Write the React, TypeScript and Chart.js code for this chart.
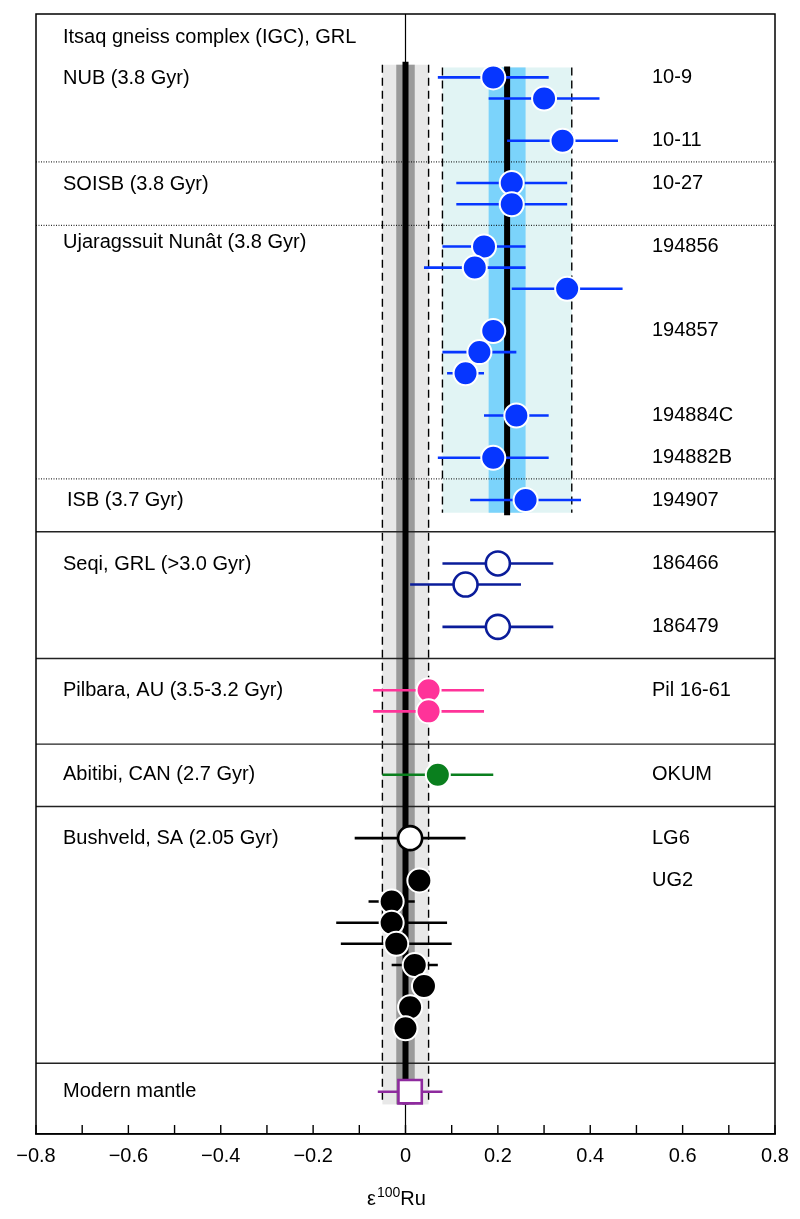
import React, { useEffect, useRef } from 'react';
import { Chart, registerables } from 'chart.js';

Chart.register(...registerables);

const FONT = '"Liberation Sans", Arial, Helvetica, sans-serif';

// ---- axis ----
const X_MIN = -0.8;
const X_MAX = 0.8;
const X_STEP = 0.1;
const ROW_TOP = -3;
const ROW_BOTTOM = 50;

// ---- Itsaq gneiss complex (IGC) samples ----
const igcRows = [0, 1, 3, 5, 6, 8, 9, 10, 12, 13, 14, 16, 18, 20];
const igcValues = [0.19, 0.3, 0.34, 0.23, 0.23, 0.17, 0.15, 0.35, 0.19, 0.16, 0.13, 0.24, 0.19, 0.26];
const igcErrors = [0.12, 0.12, 0.12, 0.12, 0.12, 0.09, 0.11, 0.12, 0.02, 0.08, 0.04, 0.07, 0.12, 0.12];

// ---- Seqi ----
const seqiRows = [23, 24, 26];
const seqiValues = [0.2, 0.13, 0.2];
const seqiErrors = [0.12, 0.12, 0.12];

// ---- Pilbara ----
const pilbaraRows = [29, 30];
const pilbaraValues = [0.05, 0.05];
const pilbaraErrors = [0.12, 0.12];

// ---- Abitibi ----
const abitibiRows = [33];
const abitibiValues = [0.07];
const abitibiErrors = [0.12];

// ---- Bushveld ----
const lg6Rows = [36];
const lg6Values = [0.01];
const lg6Errors = [0.12];
const ug2Rows = [38, 39, 40, 41, 42, 43, 44, 45];
const ug2Values = [0.03, -0.03, -0.03, -0.02, 0.02, 0.04, 0.01, 0.0];
const ug2Errors = [0.02, 0.05, 0.12, 0.12, 0.05, 0.02, 0.02, 0.02];

// ---- Modern mantle ----
const mantleRows = [48];
const mantleValues = [0.01];
const mantleErrors = [0.07];

// ---- bands (mean, inner, outer, row extent) ----
const igcMean = 0.22;
const igcInner = [0.18, 0.26];
const igcOuter = [0.08, 0.36];
const igcBandRows = [-0.47, 20.6];
const igcMeanRows = [-0.52, 20.72];

const mantleMean = 0;
const mantleInner = [-0.02, 0.02];
const mantleOuter = [-0.05, 0.05];
const mantleBandRows = [-0.6, 48.6];
const mantleMeanRows = [-0.74, 48.6];

// ---- separators ----
const dottedRows = [4, 7, 19];
const solidRows = [21.5, 27.5, 31.55, 34.5, 46.65];

// ---- text ----
const groupLabels = [
  'Itsaq gneiss complex (IGC), GRL',
  'NUB (3.8 Gyr)',
  'SOISB (3.8 Gyr)',
  'Ujaragssuit Nunât (3.8 Gyr)',
  'ISB (3.7 Gyr)',
  'Seqi, GRL (>3.0 Gyr)',
  'Pilbara, AU (3.5-3.2 Gyr)',
  'Abitibi, CAN (2.7 Gyr)',
  'Bushveld, SA (2.05 Gyr)',
  'Modern mantle',
];
const groupLabelRows = [-1.88, 0.03, 5.05, 7.8, 20, 23.05, 29, 33, 36, 48];
const groupLabelIndent = [0, 0, 0, 0, 4, 0, 0, 0, 0, 0];

const sampleLabels = [
  '10-9', '10-11', '10-27', '194856', '194857', '194884C', '194882B', '194907',
  '186466', '186479', 'Pil 16-61', 'OKUM', 'LG6', 'UG2',
];
const sampleLabelRows = [0, 3, 5, 8, 12, 16, 18, 20, 23, 26, 29, 33, 36, 38];

// ---- colours ----
const BLUE = '#0636ff';
const NAVY = '#0a1c9a';
const PINK = '#ff3399';
const GREEN = '#0a7f1e';
const PURPLE = '#8e2a9e';
const LIGHT_CYAN = '#e1f4f4';
const MID_BLUE = '#7bd3fb';
const LIGHT_GRAY = '#e8e8e8';
const DARK_GRAY = '#9a9a9a';

function pts(rows: number[], values: number[]) {
  return rows.map((r, i) => ({ x: values[i], y: r }));
}

export default function App() {
  const ref = useRef<HTMLCanvasElement>(null);

  useEffect(() => {
    const canvas = ref.current;
    if (!canvas) return;

    const errorSets = [
      { rows: igcRows, values: igcValues, errors: igcErrors, color: BLUE },
      { rows: seqiRows, values: seqiValues, errors: seqiErrors, color: NAVY },
      { rows: pilbaraRows, values: pilbaraValues, errors: pilbaraErrors, color: PINK },
      { rows: abitibiRows, values: abitibiValues, errors: abitibiErrors, color: GREEN },
      { rows: lg6Rows, values: lg6Values, errors: lg6Errors, color: '#000' },
      { rows: ug2Rows, values: ug2Values, errors: ug2Errors, color: '#000' },
      { rows: mantleRows, values: mantleValues, errors: mantleErrors, color: PURPLE },
    ];

    const overlay = {
      id: 'overlay',
      beforeDatasetsDraw(chart: any) {
        const ctx = chart.ctx as CanvasRenderingContext2D;
        const xs = chart.scales.x;
        const ys = chart.scales.y;
        const area = chart.chartArea;
        const X = (v: number) => xs.getPixelForValue(v);
        const Y = (v: number) => ys.getPixelForValue(v);
        ctx.save();

        // zero line
        ctx.strokeStyle = '#000';
        ctx.lineWidth = 1.2;
        ctx.beginPath();
        ctx.moveTo(X(0), area.top);
        ctx.lineTo(X(0), area.bottom);
        ctx.stroke();

        const band = (lo: number, hi: number, r0: number, r1: number, color: string) => {
          ctx.fillStyle = color;
          ctx.fillRect(X(lo), Y(r0), X(hi) - X(lo), Y(r1) - Y(r0));
        };
        // mantle band
        band(mantleOuter[0], mantleOuter[1], mantleBandRows[0], mantleBandRows[1], LIGHT_GRAY);
        band(mantleInner[0], mantleInner[1], mantleBandRows[0], mantleBandRows[1], DARK_GRAY);
        // IGC band
        band(igcOuter[0], igcOuter[1], igcBandRows[0], igcBandRows[1], LIGHT_CYAN);
        band(igcInner[0], igcInner[1], igcBandRows[0], igcBandRows[1], MID_BLUE);

        // dashed band edges
        ctx.strokeStyle = '#000';
        ctx.lineWidth = 1.4;
        ctx.setLineDash([8, 5]);
        const vdash = (v: number, r0: number, r1: number) => {
          ctx.beginPath();
          ctx.moveTo(X(v), Y(r0));
          ctx.lineTo(X(v), Y(r1));
          ctx.stroke();
        };
        mantleOuter.forEach((v) => vdash(v, mantleBandRows[0], mantleBandRows[1]));
        igcOuter.forEach((v) => vdash(v, igcBandRows[0], igcBandRows[1]));

        // separators
        ctx.setLineDash([1, 1.5]);
        ctx.lineWidth = 1;
        dottedRows.forEach((r) => {
          ctx.beginPath();
          ctx.moveTo(area.left, Y(r));
          ctx.lineTo(area.right, Y(r));
          ctx.stroke();
        });
        ctx.setLineDash([]);
        ctx.lineWidth = 1.4;
        ctx.strokeStyle = '#222';
        solidRows.forEach((r) => {
          ctx.beginPath();
          ctx.moveTo(area.left, Y(r));
          ctx.lineTo(area.right, Y(r));
          ctx.stroke();
        });

        // mean lines
        ctx.strokeStyle = '#000';
        ctx.lineWidth = 6;
        ctx.beginPath();
        ctx.moveTo(X(mantleMean), Y(mantleMeanRows[0]));
        ctx.lineTo(X(mantleMean), Y(mantleMeanRows[1]));
        ctx.moveTo(X(igcMean), Y(igcMeanRows[0]));
        ctx.lineTo(X(igcMean), Y(igcMeanRows[1]));
        ctx.stroke();

        // error bars
        ctx.lineWidth = 2.6;
        errorSets.forEach((s) => {
          ctx.strokeStyle = s.color;
          s.rows.forEach((r, i) => {
            ctx.beginPath();
            ctx.moveTo(X(s.values[i] - s.errors[i]), Y(r));
            ctx.lineTo(X(s.values[i] + s.errors[i]), Y(r));
            ctx.stroke();
          });
        });
        ctx.restore();
      },
      afterDatasetsDraw(chart: any) {
        const ctx = chart.ctx as CanvasRenderingContext2D;
        const xs = chart.scales.x;
        const ys = chart.scales.y;
        const area = chart.chartArea;
        const Y = (v: number) => ys.getPixelForValue(v);
        ctx.save();

        // frame
        ctx.strokeStyle = '#000';
        ctx.lineWidth = 1.5;
        ctx.strokeRect(area.left, area.top, area.right - area.left, area.bottom - area.top);

        // inward ticks
        ctx.lineWidth = 1.4;
        xs.ticks.forEach((t: any) => {
          const px = xs.getPixelForValue(t.value);
          ctx.beginPath();
          ctx.moveTo(px, area.bottom);
          ctx.lineTo(px, area.bottom - 9);
          ctx.stroke();
        });

        // labels
        ctx.fillStyle = '#000';
        ctx.font = `20px ${FONT}`;
        ctx.textBaseline = 'middle';
        ctx.textAlign = 'left';
        groupLabels.forEach((t, i) => {
          ctx.fillText(t, area.left + 27 + groupLabelIndent[i], Y(groupLabelRows[i]));
        });
        sampleLabels.forEach((t, i) => {
          ctx.fillText(t, area.right - 123, Y(sampleLabelRows[i]));
        });

        // axis title ε100Ru
        const big = `20px ${FONT}`;
        const small = `14px ${FONT}`;
        ctx.textBaseline = 'alphabetic';
        ctx.font = big;
        const wE = ctx.measureText('ε').width;
        const wR = ctx.measureText('Ru').width;
        ctx.font = small;
        const w1 = ctx.measureText('100').width;
        const total = wE + w1 + wR + 1;
        let x0 = (area.left + area.right) / 2 - 9 - total / 2;
        const base = area.bottom + 71;
        ctx.font = big;
        ctx.fillText('ε', x0, base);
        x0 += wE + 1;
        ctx.font = small;
        ctx.fillText('100', x0, base - 8);
        x0 += w1;
        ctx.font = big;
        ctx.fillText('Ru', x0, base);
        ctx.restore();
      },
    };

    const chart = new Chart(canvas, {
      type: 'scatter',
      data: {
        datasets: [
          {
            data: pts(igcRows, igcValues),
            backgroundColor: BLUE,
            borderColor: '#fff',
            borderWidth: 2,
            pointRadius: 12,
          },
          {
            data: pts(seqiRows, seqiValues),
            backgroundColor: '#fff',
            borderColor: NAVY,
            borderWidth: 2.6,
            pointRadius: 12,
          },
          {
            data: pts(pilbaraRows, pilbaraValues),
            backgroundColor: PINK,
            borderColor: '#fff',
            borderWidth: 2,
            pointRadius: 12,
          },
          {
            data: pts(abitibiRows, abitibiValues),
            backgroundColor: GREEN,
            borderColor: '#fff',
            borderWidth: 2,
            pointRadius: 12,
          },
          {
            data: pts(lg6Rows, lg6Values),
            backgroundColor: '#fff',
            borderColor: '#000',
            borderWidth: 2.6,
            pointRadius: 12,
          },
          {
            data: pts(ug2Rows, ug2Values),
            backgroundColor: '#000',
            borderColor: '#fff',
            borderWidth: 2,
            pointRadius: 12,
          },
          {
            data: pts(mantleRows, mantleValues),
            pointStyle: 'rect',
            backgroundColor: '#fff',
            borderColor: PURPLE,
            borderWidth: 2.6,
            pointRadius: 16.5,
          },
        ] as any,
      },
      options: {
        responsive: false,
        animation: false,
        events: [],
        layout: { autoPadding: false, padding: { left: 36, right: 25, top: 14, bottom: 0 } },
        plugins: {
          legend: { display: false },
          tooltip: { enabled: false },
          title: { display: false },
        },
        scales: {
          x: {
            type: 'linear',
            min: X_MIN,
            max: X_MAX,
            afterFit: (scale: any) => {
              scale.height = 85;
            },
            border: { display: true, color: '#000', width: 1.5 },
            grid: { display: false, drawTicks: false },
            ticks: {
              stepSize: X_STEP,
              autoSkip: false,
              maxRotation: 0,
              padding: 10,
              color: '#000',
              font: { family: FONT, size: 20 },
              callback: (v: any) => {
                const n = Math.round(Number(v) * 10);
                if (n % 2 !== 0) return '';
                if (n === 0) return '0';
                const s = (Math.abs(n) / 10).toFixed(1);
                return n < 0 ? '\u2212' + s : s;
              },
            },
          },
          y: {
            type: 'linear',
            min: ROW_TOP,
            max: ROW_BOTTOM,
            reverse: true,
            display: false,
          },
        },
      } as any,
      plugins: [overlay],
    });

    return () => chart.destroy();
  }, []);

  return (
    <div style={{ position: 'absolute', left: 0, top: 0, width: 800, height: 1219 }}>
      <canvas ref={ref} width={800} height={1219} style={{ display: 'block' }} />
    </div>
  );
}
